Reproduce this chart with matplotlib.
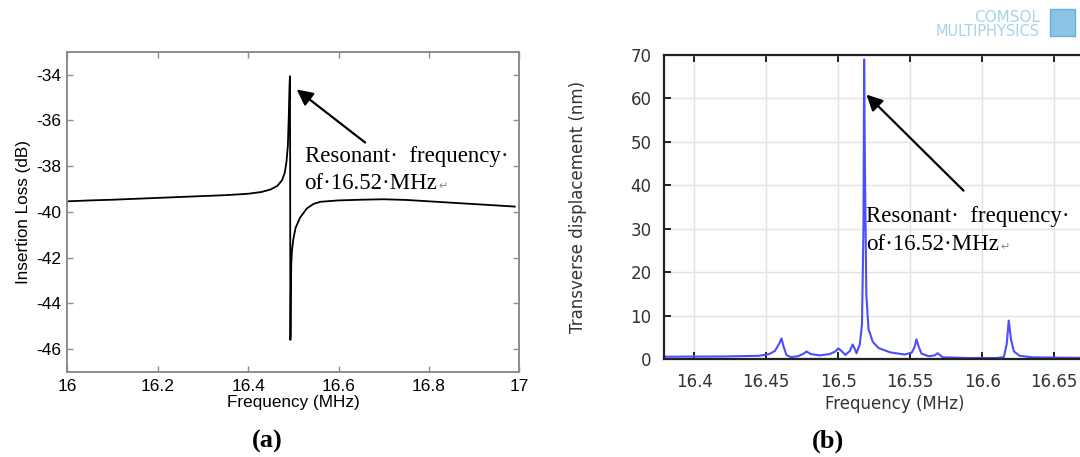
import matplotlib
matplotlib.use("Agg")
import matplotlib.pyplot as plt
from matplotlib.patches import Rectangle

plt.rcParams["axes.unicode_minus"] = False

# ---------------- data ----------------
freq_a = [16.000, 16.050, 16.100, 16.150, 16.200, 16.250, 16.300, 16.350, 16.400, 16.430,
          16.450, 16.465, 16.475, 16.481, 16.485, 16.488, 16.490, 16.4915, 16.4925, 16.4930,
          16.4935, 16.4940, 16.4945, 16.4955, 16.4970, 16.5000, 16.5050, 16.5150, 16.5300, 16.5450,
          16.5600, 16.6000, 16.6500, 16.7000, 16.7500, 16.8000, 16.8500, 16.9000, 16.9500, 16.9900]
il_a = [-39.54, -39.50, -39.47, -39.43, -39.39, -39.35, -39.31, -39.27, -39.21, -39.13,
        -39.02, -38.86, -38.62, -38.30, -37.80, -37.10, -35.80, -34.60, -34.07, -37.50,
        -45.60, -45.40, -43.60, -42.30, -41.70, -41.20, -40.70, -40.25, -39.85, -39.65,
        -39.56, -39.50, -39.47, -39.45, -39.48, -39.54, -39.60, -39.66, -39.72, -39.77]
xticks_a = [16.0, 16.2, 16.4, 16.6, 16.8, 17.0]
xticklabels_a = ["16", "16.2", "16.4", "16.6", "16.8", "17"]
yticks_a = [-46, -44, -42, -40, -38, -36, -34]

freq_b = [16.380, 16.420, 16.445, 16.452, 16.456, 16.459, 16.4606, 16.462, 16.464, 16.467,
          16.472, 16.476, 16.478, 16.481, 16.487, 16.494, 16.498, 16.500, 16.502, 16.505,
          16.508, 16.510, 16.5115, 16.5127, 16.515, 16.5165, 16.5175, 16.518, 16.5185, 16.5195,
          16.521, 16.524, 16.528, 16.536, 16.546, 16.551, 16.553, 16.5543, 16.556, 16.5578,
          16.563, 16.567, 16.569, 16.5726, 16.590, 16.610, 16.615, 16.617, 16.6184, 16.620,
          16.622, 16.626, 16.635, 16.660, 16.700]
disp_b = [0.6, 0.65, 0.8, 1.2, 1.9, 3.6, 4.8, 3.0, 1.0, 0.5,
          0.7, 1.3, 1.8, 1.2, 0.9, 1.2, 1.8, 2.5, 2.0, 1.0,
          1.9, 3.4, 2.4, 1.4, 3.5, 8.0, 30.0, 69.0, 45.0, 15.0,
          7.0, 4.0, 2.6, 1.6, 1.1, 1.5, 2.8, 4.6, 2.8, 1.3,
          0.7, 0.9, 1.4, 0.45, 0.3, 0.3, 0.5, 3.5, 8.9, 4.5,
          1.8, 0.8, 0.45, 0.35, 0.35]
xticks_b = [16.4, 16.45, 16.5, 16.55, 16.6, 16.65]
xticklabels_b = ["16.4", "16.45", "16.5", "16.55", "16.6", "16.65"]
yticks_b = [0, 10, 20, 30, 40, 50, 60, 70]

ann_line1 = "Resonant·  frequency·"
ann_line2 = "of·16.52·MHz"

# ---------------- figure ----------------
W, H = 1080, 457
fig = plt.figure(figsize=(W / 100, H / 100), dpi=100)
fig.patch.set_facecolor("white")

def pos(x0, y0, x1, y1):
    # pixel box (left, top, right, bottom) -> figure fraction
    return [x0 / W, 1 - y1 / H, (x1 - x0) / W, (y1 - y0) / H]

serif = ["Liberation Serif", "DejaVu Serif"]
arial = "Liberation Sans"

# ---------------- panel (a) ----------------
axa = fig.add_axes(pos(67.3, 51.7, 519.3, 372))
axa.plot(freq_a, il_a, color="black", lw=1.3)
axa.set_xlim(16.0, 17.0)
axa.set_ylim(-47, -33)
axa.set_xticks(xticks_a)
axa.set_xticklabels(xticklabels_a)
axa.set_yticks(yticks_a)
for s in axa.spines.values():
    s.set_color("#8c8c8c")
    s.set_linewidth(1.4)
axa.tick_params(direction="in", length=4, width=1, color="#8c8c8c",
                top=True, right=True, labelsize=12.5, pad=4)
for lab in axa.get_xticklabels() + axa.get_yticklabels():
    lab.set_fontfamily(arial)
axa.tick_params(axis="x", pad=5)
axa.set_xlabel("Frequency (MHz)", fontsize=12.3, fontfamily=arial, labelpad=1)
axa.set_ylabel("Insertion Loss (dB)", fontsize=12.3, fontfamily=arial, labelpad=4)

axa.annotate("", xy=(16.5075, -34.65), xytext=(16.659, -36.97),
             arrowprops=dict(arrowstyle="-|>", color="black", lw=1.6,
                             mutation_scale=24, shrinkA=0, shrinkB=0))
axa.text(16.525, -37.84, ann_line1, fontsize=16.5, family=serif, va="baseline", ha="left")
ta = axa.text(16.525, -38.99, ann_line2, fontsize=16.5, family=serif, va="baseline", ha="left")
axa.annotate("↵", xy=(1, 0), xycoords=ta, xytext=(1, 2), textcoords="offset points",
             fontsize=8, color="#888888", family=["DejaVu Sans"], va="bottom", ha="left")

# ---------------- panel (b) ----------------
xlim_b = (16.379, 16.70)
px_per_mhz = 1440.0
left_b = 664.0
right_b = left_b + (xlim_b[1] - xlim_b[0]) * px_per_mhz
axb = fig.add_axes(pos(left_b, 55.0, right_b, 359.3))
axb.plot(freq_b, disp_b, color="#4d4dff", lw=1.5)
axb.set_xlim(*xlim_b)
axb.set_ylim(0, 70)
axb.set_xticks(xticks_b)
axb.set_xticklabels(xticklabels_b)
axb.set_yticks(yticks_b)
axb.grid(True, color="#e3e3e3", lw=1.0)
axb.set_axisbelow(True)
for s in axb.spines.values():
    s.set_color("#222222")
    s.set_linewidth(1.6)
axb.tick_params(direction="in", length=5, width=1.4, color="#222222",
                top=True, right=True, labelsize=12, labelcolor="#333333")
axb.tick_params(axis="x", pad=10)
axb.tick_params(axis="y", pad=9)
axb.set_xlabel("Frequency (MHz)", fontsize=12, color="#333333", labelpad=3)
axb.set_ylabel("Transverse displacement (nm)", fontsize=12, color="#333333", labelpad=31)

axb.annotate("", xy=(16.5196, 60.9), xytext=(16.587, 38.8),
             arrowprops=dict(arrowstyle="-|>", color="black", lw=1.6,
                             mutation_scale=24, shrinkA=0, shrinkB=0))
axb.text(16.5195, 31.6, ann_line1, fontsize=16.5, family=serif, va="baseline", ha="left",
         clip_on=False)
tb = axb.text(16.5195, 25.2, ann_line2, fontsize=16.5, family=serif, va="baseline", ha="left")
axb.annotate("↵", xy=(1, 0), xycoords=tb, xytext=(1, 2), textcoords="offset points",
             fontsize=8, color="#888888", family=["DejaVu Sans"], va="bottom", ha="left")

# ---------------- panel labels ----------------
fig.text(267 / W, 1 - 441 / H, "(a)", fontsize=19, fontweight="bold", family=serif,
         ha="center", va="center")
fig.text(828 / W, 1 - 441 / H, "(b)", fontsize=19, fontweight="bold", family=serif,
         ha="center", va="center")

# ---------------- COMSOL logo ----------------
fig.text(1040 / W, 1 - 17 / H, "COMSOL", fontsize=11, color="#a9d2ea", ha="right",
         va="center", family="DejaVu Sans")
fig.text(1040 / W, 1 - 31 / H, "MULTIPHYSICS", fontsize=10.5, color="#a9d2ea", ha="right",
         va="center", family="DejaVu Sans")
fig.patches.append(Rectangle((1050 / W, 1 - 36 / H), 25 / W, 27 / H, transform=fig.transFigure,
                             facecolor="#8cc4e6", edgecolor="#6aaed8", lw=1, figure=fig))

fig.savefig("out.png", dpi=100)
